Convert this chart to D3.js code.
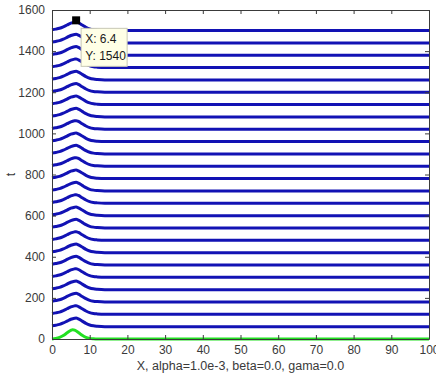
<!DOCTYPE html>
<html>
<head>
<meta charset="utf-8">
<script src="https://cdn.jsdelivr.net/npm/d3@7"></script>
<style>
  body { margin: 0; background: #fff; }
  svg text { font-family: "Liberation Sans", Arial, sans-serif; }
</style>
</head>
<body>
<div id="chart"></div>
<script>
var width = 436;
var height = 381;

// time levels of the blue snapshots (t)
var tLevels = [60, 120, 180, 240, 300, 360, 420, 480, 540, 600, 660, 720, 780,
	840, 900, 960, 1020, 1080, 1140, 1200, 1260, 1320, 1380, 1440, 1500];

// profile u(x) of each blue snapshot
var blueX = [0, 1, 2, 3, 4, 5, 6, 6.4, 7, 8, 9, 10, 11, 12, 14, 100];
var blueU = [4, 7, 11, 18, 27, 36, 41, 42, 38, 27, 16, 8, 4, 2, 0, 0];

// initial profile at t = 0 (green)
var greenX = [0, 1, 2, 3, 4, 5, 5.5, 6, 7, 8, 9, 10, 11, 12, 100];
var greenU = [0, 3, 8, 17, 30, 42, 45, 43, 32, 18, 8, 3, 1, 0, 0];

var xTicks = [0, 10, 20, 30, 40, 50, 60, 70, 80, 90, 100];
var yTicks = [0, 200, 400, 600, 800, 1000, 1200, 1400, 1600];

var tip = { x: 6.4, y: 1540 };

var margin = { left: 52, right: 7, top: 10, bottom: 42 };

var svg = d3.select("#chart")
	.append("svg")
		.attr("width", width)
		.attr("height", height)
	;

var xScale = d3.scaleLinear().domain([0, 100]).range([margin.left, width - margin.right]);
var yScale = d3.scaleLinear().domain([0, 1600]).range([height - margin.bottom, margin.top]);

var line = d3.line()
	.x(d => xScale(d[0]))
	.y(d => yScale(d[1]))
	.curve(d3.curveMonotoneX)
	;

// blue snapshots
svg.selectAll("path.snap")
	.data(tLevels)
	.enter()
		.append("path")
			.attr("class", "snap")
			.attr("fill", "none")
			.attr("stroke", "#1212b4")
			.attr("stroke-width", 3)
			.attr("d", t => line(blueX.map((xv, i) => [xv, t + blueU[i]])))
	;

// green initial line
svg.append("path")
	.attr("fill", "none")
	.attr("stroke", "#22e022")
	.attr("stroke-width", 3)
	.attr("d", line(greenX.map((xv, i) => [xv, greenU[i]])))
	;

// axes, MATLAB style: box with inward ticks
var axisColor = "#3a3a3a";
var fmt = d3.format("d");
var axBottom = svg.append("g")
	.attr("transform", "translate(0," + (height - margin.bottom) + ")")
	.call(d3.axisBottom(xScale).tickValues(xTicks).tickSizeInner(-4).tickSizeOuter(0).tickPadding(6).tickFormat(fmt));
var axTop = svg.append("g")
	.attr("transform", "translate(0," + margin.top + ")")
	.call(d3.axisTop(xScale).tickValues(xTicks).tickSizeInner(-4).tickSizeOuter(0).tickFormat(""));
var axLeft = svg.append("g")
	.attr("transform", "translate(" + margin.left + ",0)")
	.call(d3.axisLeft(yScale).tickValues(yTicks).tickSizeInner(-4).tickSizeOuter(0).tickPadding(7).tickFormat(fmt));
var axRight = svg.append("g")
	.attr("transform", "translate(" + (width - margin.right) + ",0)")
	.call(d3.axisRight(yScale).tickValues(yTicks).tickSizeInner(-4).tickSizeOuter(0).tickFormat(""));

[axBottom, axTop, axLeft, axRight].forEach(g => {
	g.select(".domain").attr("stroke", axisColor);
	g.selectAll(".tick line").attr("stroke", axisColor);
	g.selectAll("text")
		.attr("fill", axisColor)
		.style("font-size", "12px")
		.style("font-family", "'Liberation Sans', Arial, sans-serif");
});

// axis labels
svg.append("text")
	.attr("x", (xScale(0) + xScale(100)) / 2)
	.attr("y", 370)
	.attr("text-anchor", "middle")
	.attr("fill", axisColor)
	.style("font-size", "12.5px")
	.text("X,  alpha=1.0e-3, beta=0.0, gama=0.0");

svg.append("text")
	.attr("transform", "translate(15," + yScale(800) + ") rotate(-90)")
	.attr("text-anchor", "middle")
	.attr("fill", axisColor)
	.style("font-size", "12.5px")
	.text("t");

// data tip
svg.append("rect")
	.attr("x", xScale(tip.x) - 4)
	.attr("y", yScale(tip.y) - 6)
	.attr("width", 8)
	.attr("height", 8)
	.attr("fill", "#000");

var tipG = svg.append("g")
	.attr("transform", "translate(" + (xScale(tip.x) + 5) + "," + (yScale(tip.y) + 6) + ")");
tipG.append("rect")
	.attr("width", 46)
	.attr("height", 38)
	.attr("fill", "#ffffe6")
	.attr("stroke", "#c8c8b4")
	.attr("stroke-width", 1);
tipG.append("text")
	.attr("x", 4).attr("y", 15)
	.attr("fill", "#1a1a1a")
	.style("font-size", "12px")
	.text("X: " + tip.x);
tipG.append("text")
	.attr("x", 4).attr("y", 32)
	.attr("fill", "#1a1a1a")
	.style("font-size", "12px")
	.text("Y: " + tip.y);
</script>
</body>
</html>
